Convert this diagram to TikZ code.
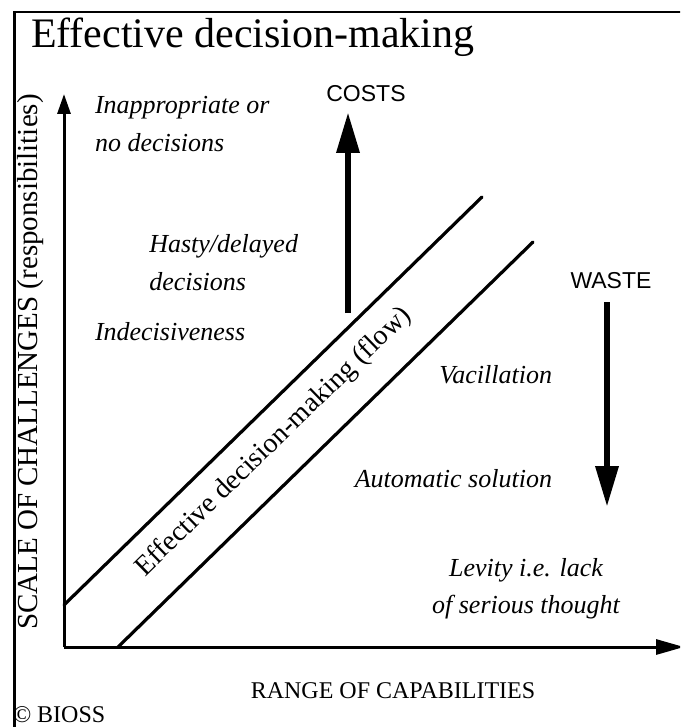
\documentclass[tikz,border=0pt]{standalone}
\usepackage{fontspec}
\setmainfont{Liberation Serif}
\newfontfamily\labelsans{Liberation Sans}
\usetikzlibrary{arrows.meta,calc}

\begin{document}
\begin{tikzpicture}[x=1pt,y=-1pt,
  frameline/.style={line width=2.8pt},
  axisline/.style={line width=3pt},
  bandline/.style={line width=3.2pt, line cap=round},
  bigarrow/.style={line width=6.5pt, -{Triangle[length=41pt,width=22pt]}},
  plain/.style={inner sep=0pt, outer sep=0pt},
  region/.style={plain, font=\fontsize{26}{30}\selectfont\itshape},
  caps/.style={plain, font=\labelsans\fontsize{23}{27}\selectfont},
]
\useasboundingbox (0,0) rectangle (680,727);
\clip (0,0) rectangle (680,727);

% outer frame (right and bottom sides run off the page)
\draw[frameline] (14.5,12) rectangle (720,760);

% title
\node[plain, anchor=base west, font=\fontsize{42}{48}\selectfont] (title) at (31,48) {Effective decision-making};

% axes
\coordinate (origin) at (64,647);
\coordinate (ytip) at (64,94);
\coordinate (xtip) at (684,647);
\draw[axisline, -{Triangle[length=20pt,width=13pt]}] (origin) -- (ytip);
\draw[axisline, -{Triangle[length=28pt,width=15pt]}] (origin) -- (xtip);

% the flow band
\coordinate (upA) at (64,605);
\coordinate (upB) at (482,197);
\coordinate (loA) at (118,647);
\coordinate (loB) at (533,242);
\draw[bandline] (upA) -- (upB);
\draw[bandline] (loA) -- (loB);
\node[plain, rotate=44.3, font=\fontsize{28}{32}\selectfont] (flow) at (274,442) {Effective decision-making (flow)};

% costs and waste arrows
\node[caps, anchor=base] (costs) at (366,102) {COSTS};
\coordinate (costsfoot) at (348,313);
\coordinate (coststip) at (348,112);
\draw[bigarrow] (costsfoot) -- (coststip);

\node[caps, anchor=base] (waste) at (611,288) {WASTE};
\coordinate (wastetop) at (607,302);
\coordinate (wastetip) at (607,507);
\draw[bigarrow] (wastetop) -- (wastetip);

% region labels
\node[region, anchor=base west] (inapp) at (95,114) {Inappropriate or};
\node[region, anchor=base west] (inapp2) at (95,152) {no decisions};
\node[region, anchor=base east] (hasty) at (298,252) {Hasty/delayed};
\node[region, anchor=base west] (hasty2) at ($(hasty.base west)+(0,38)$) {decisions};
\node[region, anchor=base west] (indec) at (95,340) {Indecisiveness};
\node[region, anchor=base east] (vacil) at (552,383) {Vacillation};
\node[region, anchor=base east] (auto) at (552,487) {Automatic solution};
\node[region, anchor=base] (levity) at (526,576) {Levity i.e. lack};
\node[region, anchor=base] (levity2) at (526,613) {of serious thought};

% axis titles
\node[plain, rotate=90, font=\fontsize{29}{33}\selectfont] (ylabel) at (31,362) {SCALE OF CHALLENGES (responsibilities)};
\node[plain, anchor=base, font=\fontsize{24}{28}\selectfont] (xlabel) at (393,698) {RANGE OF CAPABILITIES};
\node[plain, anchor=base west, font=\fontsize{24}{28}\selectfont] (copy) at (13,722) {© BIOSS};
\end{tikzpicture}
\end{document}
